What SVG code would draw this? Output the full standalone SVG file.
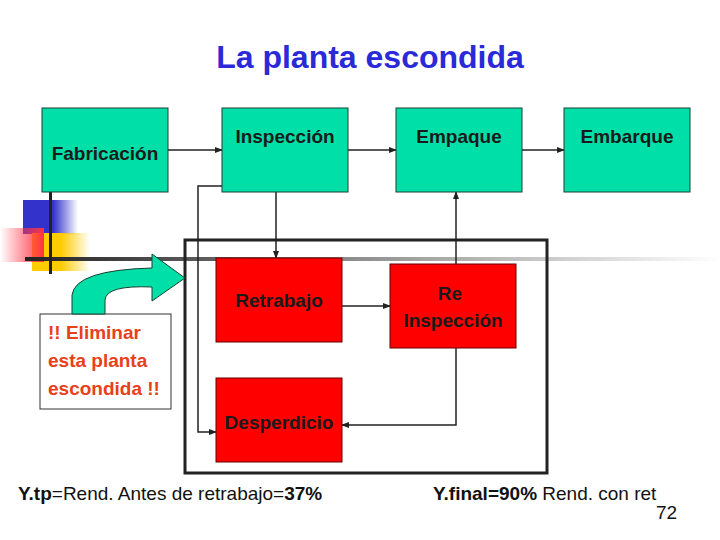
<svg xmlns="http://www.w3.org/2000/svg" width="720" height="540" viewBox="0 0 720 540">
<style>
.g{fill:#00dfa8;stroke:#1a4030;stroke-width:1}
.r{fill:#ff0000;stroke:#600;stroke-width:1}
.t{font-family:"Liberation Sans",Arial,sans-serif;font-size:19px;font-weight:bold;fill:#1a1a1a;text-anchor:middle}
.c{stroke:#222;stroke-width:1.5;fill:none}
</style>
<defs>
<marker id="a" markerWidth="8" markerHeight="8" refX="7" refY="4" orient="auto" markerUnits="userSpaceOnUse"><path d="M0,1 L8,4 L0,7z" fill="#222"/></marker>
<linearGradient id="hl" x1="0" x2="1"><stop offset="0" stop-color="#222"/><stop offset="0.6" stop-color="#aaa"/><stop offset="1" stop-color="#fff"/></linearGradient>
<linearGradient id="bl" x1="0" x2="1"><stop offset="0.55" stop-color="#3333cc"/><stop offset="1" stop-color="#3333cc" stop-opacity="0"/></linearGradient>
<linearGradient id="rd" x1="1" x2="0"><stop offset="0" stop-color="#ff3344"/><stop offset="1" stop-color="#ff3344" stop-opacity="0"/></linearGradient>
<linearGradient id="yl" x1="0" x2="1"><stop offset="0.5" stop-color="#ffcc00"/><stop offset="1" stop-color="#ffcc00" stop-opacity="0"/></linearGradient>
</defs>
<rect width="720" height="540" fill="#fff"/>
<g id="deco">
<rect x="23" y="200" width="55" height="34" fill="url(#bl)"/>
<rect x="32" y="233" width="58" height="38" fill="url(#yl)"/>
<rect x="0" y="228" width="44" height="34" fill="url(#rd)"/>
<rect x="25" y="257" width="695" height="4" fill="url(#hl)"/>
<rect x="49" y="192" width="3" height="82" fill="#222"/>
</g>
<text x="370" y="68" font-family="Liberation Sans,Arial,sans-serif" font-size="32" font-weight="bold" fill="#2a2ad8" text-anchor="middle">La planta escondida</text>
<rect x="185" y="240" width="362" height="233" fill="none" stroke="#222" stroke-width="3"/>
<g id="connectors">
<line class="c" x1="168" y1="150" x2="222" y2="150" marker-end="url(#a)"/>
<line class="c" x1="348" y1="150" x2="396" y2="150" marker-end="url(#a)"/>
<line class="c" x1="522" y1="150" x2="564" y2="150" marker-end="url(#a)"/>
<line class="c" x1="276" y1="192" x2="276" y2="258" marker-end="url(#a)"/>
<line class="c" x1="342" y1="306" x2="390" y2="306" marker-end="url(#a)"/>
<line class="c" x1="456" y1="264" x2="456" y2="192" marker-end="url(#a)"/>
<polyline class="c" points="456,348 456,425 342,425" marker-end="url(#a)"/>
<polyline class="c" points="222,186 198,186 198,432 216,432" marker-end="url(#a)"/>
</g>
<g id="fabricacion"><rect class="g" x="42" y="108" width="126" height="84"/><text class="t" x="105" y="160" font-weight="normal">Fabricación</text></g>
<g id="inspeccion"><rect class="g" x="222" y="108" width="126" height="84"/><text class="t" x="285" y="143">Inspección</text></g>
<g id="empaque"><rect class="g" x="396" y="108" width="126" height="84"/><text class="t" x="459" y="143">Empaque</text></g>
<g id="embarque"><rect class="g" x="564" y="108" width="126" height="84"/><text class="t" x="627" y="143">Embarque</text></g>
<g id="retrabajo"><rect class="r" x="216" y="258" width="126" height="84"/><text class="t" x="279" y="307">Retrabajo</text></g>
<g id="reinspeccion"><rect class="r" x="390" y="264" width="126" height="84"/><text class="t" x="450" y="300">Re</text><text class="t" x="453" y="327">Inspección</text></g>
<g id="desperdicio"><rect class="r" x="216" y="378" width="126" height="84"/><text class="t" x="279" y="429">Desperdicio</text></g>
<g id="callout">
<rect x="40" y="314" width="131" height="95" fill="#fff" stroke="#333"/>
<path d="M72,314 L72,295 Q75,270 152,268 L152,254 L185,278 L152,301 L152,287 Q106,285 105,300 L105,314 Z" fill="#00dfa8" stroke="#1a4030"/>
<g font-family="Liberation Sans,Arial,sans-serif" font-size="19" font-weight="bold" fill="#e8401a"><text x="48" y="339">!! Eliminar</text><text x="48" y="367">esta planta</text><text x="48" y="395">escondida !!</text></g>
</g>
<g font-family="Liberation Sans,Arial,sans-serif" font-size="19" fill="#111">
<text x="18" y="500"><tspan font-weight="bold">Y.tp</tspan>=Rend. Antes de retrabajo=<tspan font-weight="bold">37%</tspan></text>
<text x="433" y="500"><tspan font-weight="bold">Y.final=90%</tspan> Rend. con ret</text>
<text x="656" y="519">72</text>
</g>
</svg>
